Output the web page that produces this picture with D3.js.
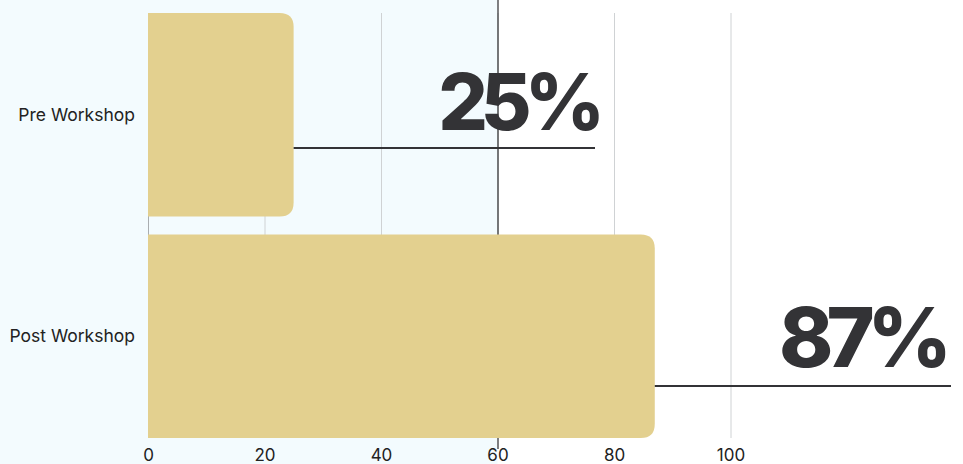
<!DOCTYPE html>
<html>
<head>
<meta charset="utf-8">
<script src="https://cdn.jsdelivr.net/npm/d3@7"></script>
<style>
  body { margin: 0; background: #fff; }
  svg { display: block; }
</style>
</head>
<body>
<svg class="chart"></svg>
<script>
const categories = ['Pre Workshop', 'Post Workshop'];
const values = [25, 87];
const valueLabels = ['25%', '87%'];
const xTicks = [0, 20, 40, 60, 80, 100];
const shadeUpTo = 60;

const width = 963, height = 464;
const margin = {top: 13, right: 0, bottom: 26, left: 148};

const svg = d3.select('.chart')
    .attr('width', width)
    .attr('height', height);

const x = d3.scaleLinear()
    .domain([0, 100])
    .range([margin.left, margin.left + 582.5]);

const y = d3.scaleBand()
    .domain(categories)
    .range([margin.top, height - margin.bottom])
    .paddingInner(0.081)
    .paddingOuter(0);

// shaded region up to 60
svg.append('rect')
    .attr('x', 0)
    .attr('y', 0)
    .attr('width', x(shadeUpTo))
    .attr('height', height)
    .attr('fill', '#f3fbfe');

// grid
svg.append('g')
    .selectAll('line')
    .data(xTicks)
    .join('line')
    .attr('x1', d => x(d) + 0.5)
    .attr('x2', d => x(d) + 0.5)
    .attr('y1', margin.top)
    .attr('y2', height - margin.bottom)
    .attr('stroke', d => d === 0 ? '#a9adb0' : '#cfd2d4')
    .attr('stroke-width', 1);

// reference line at 60
svg.append('line')
    .attr('x1', x(shadeUpTo) + 0.5)
    .attr('x2', x(shadeUpTo) + 0.5)
    .attr('y1', 0)
    .attr('y2', 449)
    .attr('stroke', '#2a2a2d')
    .attr('stroke-width', 1.2);

// bars with rounded right end
function barPath(x0, y0, x1, y1, r) {
    return `M${x0},${y0}H${x1 - r}Q${x1},${y0} ${x1},${y0 + r}V${y1 - r}Q${x1},${y1} ${x1 - r},${y1}H${x0}Z`;
}

svg.append('g')
    .selectAll('path')
    .data(categories)
    .join('path')
    .attr('d', (d, i) => barPath(x(0), y(d), x(values[i]), y(d) + y.bandwidth(), 14))
    .attr('fill', '#e3d08f');

// connector lines and value labels
const lineEnds = [595, 951];
const lineYs = [148, 386];

svg.append('g')
    .selectAll('line')
    .data(categories)
    .join('line')
    .attr('x1', (d, i) => x(values[i]))
    .attr('x2', (d, i) => lineEnds[i])
    .attr('y1', (d, i) => lineYs[i])
    .attr('y2', (d, i) => lineYs[i])
    .attr('stroke', '#333336')
    .attr('stroke-width', 2);

const labelRight = [598, 945];
const labelBase = [130, 367];
const labelSize = [78, 82];

svg.append('g')
    .selectAll('text')
    .data(valueLabels)
    .join('text')
    .attr('x', (d, i) => labelRight[i])
    .attr('y', (d, i) => labelBase[i])
    .attr('text-anchor', 'end')
    .style('font-family', 'Inter, sans-serif')
    .style('font-weight', 800)
    .style('font-size', (d, i) => labelSize[i] + 'px')
    .style('letter-spacing', '-7px')
    .attr('fill', '#333336')
    .text(d => d);

// category labels
svg.append('g')
    .selectAll('text')
    .data(categories)
    .join('text')
    .attr('x', 135)
    .attr('y', d => y(d) + y.bandwidth() / 2)
    .attr('dy', '0.35em')
    .attr('text-anchor', 'end')
    .style('font-family', 'Inter, sans-serif')
    .style('font-size', '17.5px')
    .attr('fill', '#222')
    .text(d => d);

// x axis labels
const xAxis = svg.append('g')
    .attr('transform', `translate(0, ${height - margin.bottom})`)
    .call(d3.axisBottom(x).tickValues(xTicks).tickSize(0).tickPadding(11));
xAxis.select('.domain').remove();
xAxis.selectAll('text')
    .style('font-family', 'Inter, sans-serif')
    .style('font-size', '17px')
    .attr('fill', '#222');
</script>
</body>
</html>
